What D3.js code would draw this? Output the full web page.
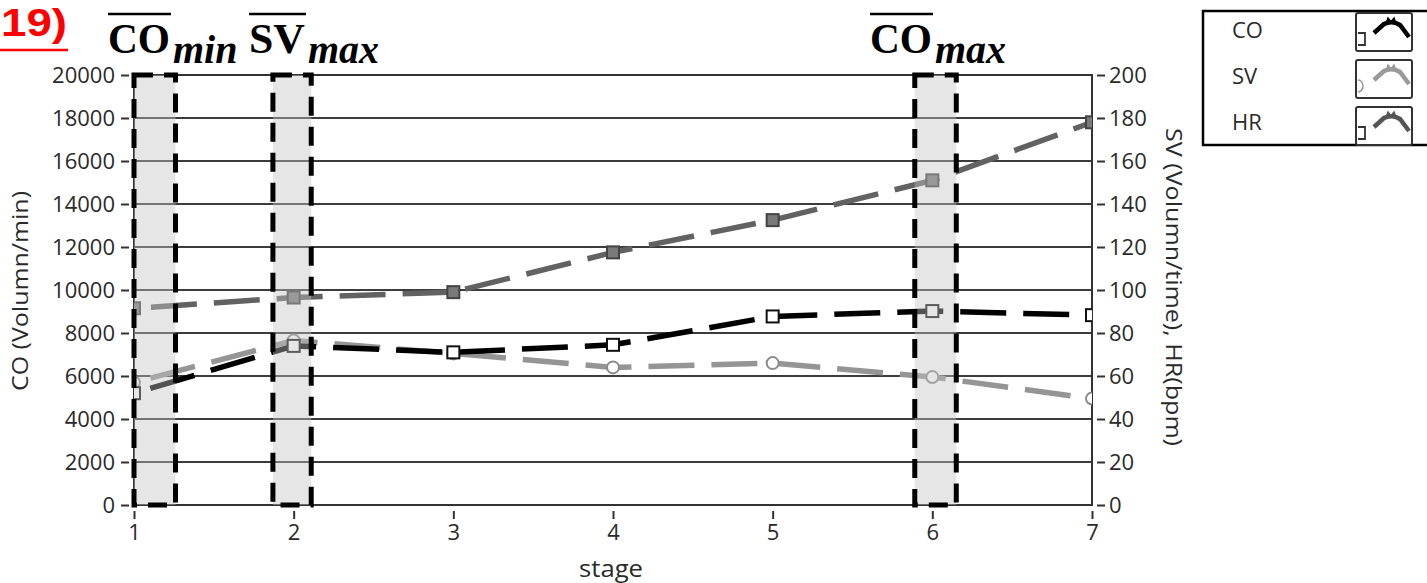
<!DOCTYPE html>
<html><head><meta charset="utf-8">
<script src="https://cdn.jsdelivr.net/npm/d3@7"></script>
<style>body{margin:0;background:#fff;overflow:hidden}svg{display:block}</style>
</head><body>
<svg id="c" width="1427" height="583"></svg>
<script>
const stages = [1, 2, 3, 4, 5, 6, 7];
const coValues = [5200, 7400, 7100, 7450, 8770, 9020, 8830];
const svValues = [57, 76.5, 70.5, 64, 66, 59.5, 49.5];
const hrValues = [91.5, 96.5, 99, 117.5, 132.5, 151, 178];
const leftTicks = [0, 2000, 4000, 6000, 8000, 10000, 12000, 14000, 16000, 18000, 20000];
const rightTicks = [0, 20, 40, 60, 80, 100, 120, 140, 160, 180, 200];
const highlightRanges = [[1, 1.26], [1.87, 2.11], [5.89, 6.15]];
const highlightLabels = [["CO", "min"], ["SV", "max"], ["CO", "max"]];
const legendNames = ["CO", "SV", "HR"];

const svg = d3.select("#c");
const L = 134, R = 1092, T = 75, B = 505;
const x = d3.scaleLinear().domain([1, 7]).range([L, R]);
const yL = d3.scaleLinear().domain([0, 20000]).range([B, T]);
const yR = d3.scaleLinear().domain([0, 200]).range([B, T]);
const font = "'Open Sans', 'Noto Sans', sans-serif";
const txt = "#2a2a2a";

svg.append("defs").append("clipPath").attr("id", "plot")
  .append("rect").attr("x", L).attr("y", T).attr("width", R - L).attr("height", B - T);

// gridlines
svg.append("g").selectAll("line").data(leftTicks).join("line")
  .attr("x1", L).attr("x2", R).attr("y1", d => yL(d)).attr("y2", d => yL(d))
  .attr("stroke", "#3c3c3c").attr("stroke-width", 2);
// frame
svg.append("rect").attr("x", L).attr("y", T).attr("width", R - L).attr("height", B - T)
  .attr("fill", "none").attr("stroke", "#333").attr("stroke-width", 2);

// axes
const gl = svg.append("g").attr("transform", `translate(${L - 5},0)`)
  .call(d3.axisLeft(yL).tickValues(leftTicks).tickFormat(d3.format("d")).tickSize(8).tickPadding(6));
const gr = svg.append("g").attr("transform", `translate(${R + 5},0)`)
  .call(d3.axisRight(yR).tickValues(rightTicks).tickFormat(d3.format("d")).tickSize(8).tickPadding(4));
const gb = svg.append("g").attr("transform", `translate(0,${B + 6})`)
  .call(d3.axisBottom(x).tickValues(stages).tickFormat(d3.format("d")).tickSize(8).tickPadding(5));
[gl, gr, gb].forEach(g => {
  g.select(".domain").remove();
  g.selectAll(".tick line").attr("stroke", "#333").attr("stroke-width", 2);
  g.selectAll(".tick text").attr("fill", txt).style("font-family", font).style("font-size", "22px");
});

// axis titles
svg.append("text").attr("transform", "translate(28,291) rotate(-90)").attr("text-anchor", "middle")
  .style("font-family", font).style("font-size", "22px").attr("fill", txt)
  .attr("textLength", 200).attr("lengthAdjust", "spacingAndGlyphs").text("CO (Volumn/min)");
svg.append("text").attr("transform", "translate(1166,287) rotate(90)").attr("text-anchor", "middle")
  .style("font-family", font).style("font-size", "22px").attr("fill", txt)
  .attr("textLength", 318).attr("lengthAdjust", "spacingAndGlyphs").text("SV (Volumn/time), HR(bpm)");
svg.append("text").attr("x", 611).attr("y", 577).attr("text-anchor", "middle")
  .style("font-family", font).style("font-size", "23px").attr("fill", txt)
  .attr("textLength", 64).attr("lengthAdjust", "spacingAndGlyphs").text("stage");

// series
const plot = svg.append("g").attr("clip-path", "url(#plot)");
const series = [
  {vals: hrValues, y: yR, color: "#626262", marker: "square", mfill: "#7a7a7a", mstroke: "#444"},
  {vals: svValues, y: yR, color: "#959595", marker: "circle", mfill: "#fff", mstroke: "#8a8a8a"},
  {vals: coValues, y: yL, color: "#000", marker: "square", mfill: "#fff", mstroke: "#111"}
];
series.forEach(s => {
  const line = d3.line().x((d, i) => x(stages[i])).y(d => s.y(d));
  plot.append("path").attr("d", line(s.vals)).attr("fill", "none")
    .attr("stroke", s.color).attr("stroke-width", 5.5)
    .attr("stroke-dasharray", "46,17").attr("stroke-dashoffset", 46);
  if (s.marker === "square") {
    plot.append("g").selectAll("rect").data(s.vals).join("rect")
      .attr("x", (d, i) => x(stages[i]) - 6).attr("y", d => s.y(d) - 6)
      .attr("width", 12).attr("height", 12)
      .attr("fill", s.mfill).attr("stroke", s.mstroke).attr("stroke-width", 2);
  } else {
    plot.append("g").selectAll("circle").data(s.vals).join("circle")
      .attr("cx", (d, i) => x(stages[i])).attr("cy", d => s.y(d)).attr("r", 6)
      .attr("fill", s.mfill).attr("stroke", s.mstroke).attr("stroke-width", 2);
  }
});

// highlight boxes
highlightRanges.forEach(r => {
  const x0 = x(r[0]), x1 = x(r[1]);
  svg.append("rect").attr("x", x0).attr("y", T).attr("width", x1 - x0).attr("height", B - T)
    .attr("fill", "#c4c4c4").attr("fill-opacity", 0.42);
  svg.append("rect").attr("x", x0).attr("y", T).attr("width", x1 - x0).attr("height", B - T)
    .attr("fill", "none").attr("stroke", "#000").attr("stroke-width", 5)
    .attr("stroke-dasharray", "19,11");
});

// top labels
highlightLabels.forEach((lab, i) => {
  const starts = [108, 249, 870];
  const widths = [62, 56, 62];
  const g = svg.append("g");
  g.append("text").attr("x", starts[i]).attr("y", 53)
    .style("font-family", "'Liberation Serif', 'DejaVu Serif', serif")
    .style("font-weight", "bold").style("font-size", "42px").attr("fill", "#000")
    .attr("textLength", widths[i]).attr("lengthAdjust", "spacingAndGlyphs").text(lab[0]);
  g.append("line").attr("x1", starts[i]).attr("x2", starts[i] + widths[i] + 1)
    .attr("y1", 14).attr("y2", 14).attr("stroke", "#000").attr("stroke-width", 2.5);
  g.append("text").attr("x", starts[i] + widths[i] + 3).attr("y", 63)
    .style("font-family", "'Liberation Serif', 'DejaVu Serif', serif")
    .style("font-style", "italic").style("font-weight", "bold").style("font-size", "40px").attr("fill", "#000")
    .text(lab[1]);
});

// red number label
svg.append("text").attr("x", 1).attr("y", 36)
  .style("font-family", "'Liberation Sans', Arial, sans-serif").style("font-weight", "bold")
  .style("font-size", "39px").attr("fill", "#f00")
  .attr("textLength", 66).attr("lengthAdjust", "spacingAndGlyphs").text("19)");
svg.append("line").attr("x1", 0).attr("x2", 68).attr("y1", 50).attr("y2", 50)
  .attr("stroke", "#f00").attr("stroke-width", 2.5);

// legend
const lg = svg.append("g");
lg.append("rect").attr("x", 1203).attr("y", 11).attr("width", 260).attr("height", 134)
  .attr("fill", "#fff").attr("stroke", "#000").attr("stroke-width", 2.5);
const legColors = ["#000", "#9a9a9a", "#555"];
const legIconTop = [13, 60, 107];
legendNames.forEach((n, i) => {
  lg.append("text").attr("x", 1232).attr("y", 38 + i * 46)
    .style("font-family", font).style("font-size", "22px").attr("fill", txt).text(n);
  const y0 = legIconTop[i];
  lg.append("rect").attr("x", 1356).attr("y", y0).attr("width", 56).attr("height", 38).attr("rx", 2)
    .attr("fill", "#fff").attr("stroke", "#333").attr("stroke-width", 2);
  if (i === 1) {
    lg.append("path").attr("d", `M1358,${y0 + 20} A5,6 0 0 1 1358,${y0 + 32}`)
      .attr("fill", "none").attr("stroke", "#999").attr("stroke-width", 1.5);
  } else {
    lg.append("path").attr("d", `M1358,${y0 + 20} H1365 V${y0 + 32} H1358`)
      .attr("fill", "none").attr("stroke", "#333").attr("stroke-width", 1.8);
  }
  lg.append("path").attr("d", `M1374,${y0 + 20} L1384,${y0 + 11} Q1392,${y0 + 7} 1400,${y0 + 12} L1409,${y0 + 24}`)
    .attr("fill", "none").attr("stroke", legColors[i]).attr("stroke-width", 4.5);
  lg.append("path").attr("d", `M1386,${y0 + 11} L1388,${y0 + 5} L1391,${y0 + 9} L1394,${y0 + 5} L1396,${y0 + 11}`)
    .attr("fill", legColors[i]).attr("stroke", legColors[i]).attr("stroke-width", 1.5);
});
</script>
</body></html>
